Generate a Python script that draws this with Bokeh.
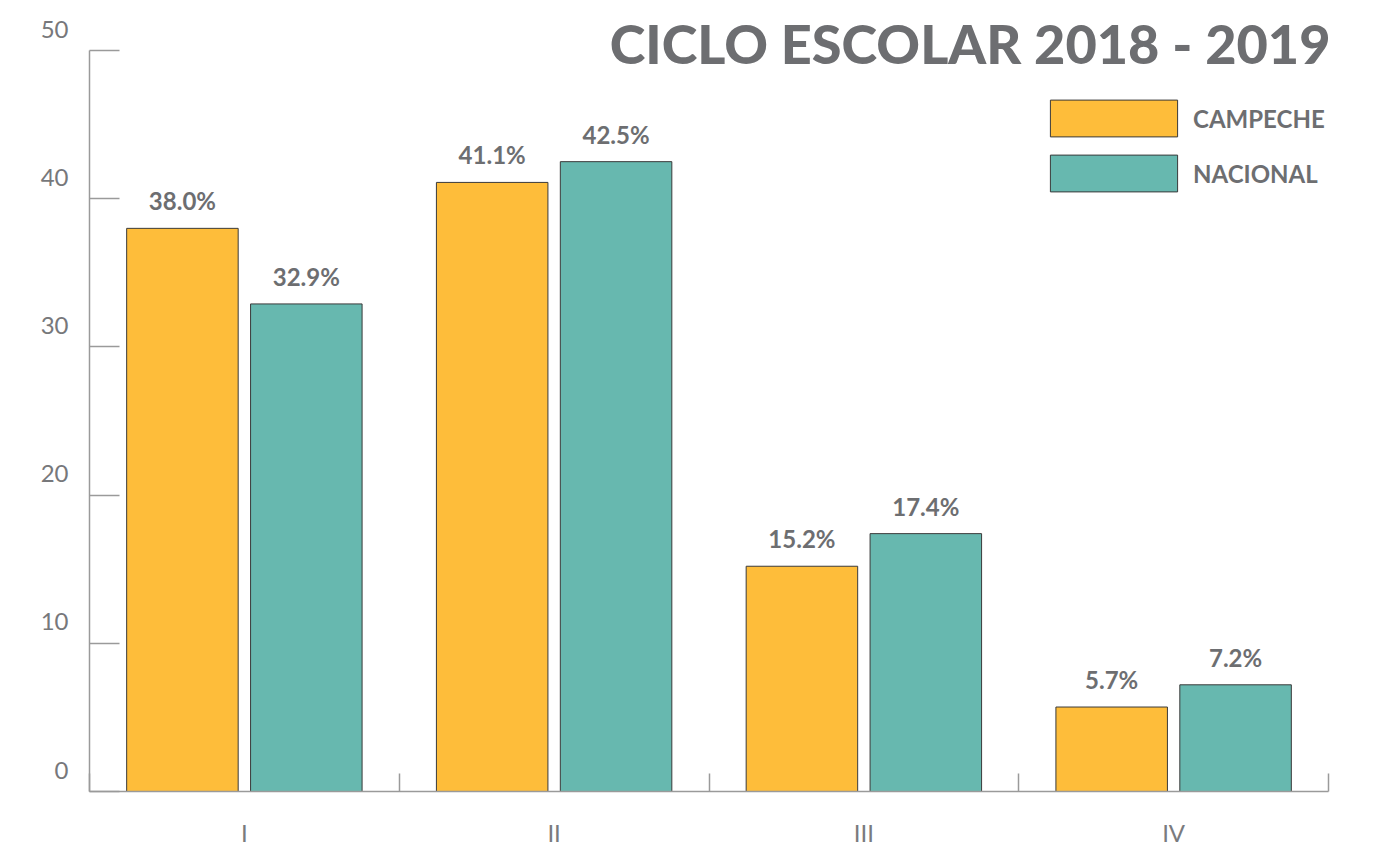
from bokeh.plotting import figure
from bokeh.models import (Range1d, FixedTicker, LinearAxis, Label, LabelSet,
                          ColumnDataSource)
from bokeh.core.properties import value
from bokeh.embed import file_html
from bokeh.resources import INLINE

categories = ["I", "II", "III", "IV"]
campeche = [38.0, 41.1, 15.2, 5.7]
nacional = [32.9, 42.5, 17.4, 7.2]
y_ticks = [0, 10, 20, 30, 40, 50]
title_text = "CICLO ESCOLAR 2018 - 2019"

YELLOW = "#FEBD3A"
TEAL = "#67B8AF"
GREY_TXT = "#6D6E71"
AXIS_GREY = "#9A9A9A"
FONT = "Lato"

n = len(categories)
centers = [i + 0.5 for i in range(n)]
bounds = [i for i in range(n + 1)]
off = 0.2
bw = 0.36

Y_MAX = 50
Y_TOP = 52.70          # headroom above the axis for the title
LBL_SHIFT = 1.45       # tick labels sit a little above their ticks

p = figure(width=1373, height=849, x_range=Range1d(0, n), y_range=Range1d(0, Y_TOP),
           output_backend="svg", toolbar_location=None,
           min_border_left=89, min_border_right=45, min_border_top=10, min_border_bottom=58)
p.outline_line_color = None
p.xgrid.visible = False
p.ygrid.visible = False
p.extra_y_ranges = {"lbl": Range1d(-LBL_SHIFT, Y_TOP - LBL_SHIFT)}

src = ColumnDataSource(dict(
    xc=[c - off for c in centers], xn=[c + off for c in centers],
    camp=campeche, nac=nacional,
    lc=[f"{v:.1f}%" for v in campeche], ln=[f"{v:.1f}%" for v in nacional],
))

p.vbar(x="xc", top="camp", width=bw, source=src, fill_color=YELLOW,
       line_color="#3a3a3a", line_width=1, legend_label="CAMPECHE")
p.vbar(x="xn", top="nac", width=bw, source=src, fill_color=TEAL,
       line_color="#3a3a3a", line_width=1, legend_label="NACIONAL")

for xf, yf, lf in (("xc", "camp", "lc"), ("xn", "nac", "ln")):
    p.add_layout(LabelSet(x=xf, y=yf, text=lf, source=src, text_align="center",
                          text_baseline="alphabetic", y_offset=18,
                          text_font=value(FONT), text_font_style="bold",
                          text_font_size="24px", text_color=GREY_TXT))

# x axis
xa = p.xaxis[0]
xa.ticker = FixedTicker(ticks=centers, minor_ticks=bounds)
xa.major_label_overrides = {c: lab for c, lab in zip(centers, categories)}
xa.major_tick_in = 0
xa.major_tick_out = 0
xa.minor_tick_in = 18
xa.minor_tick_out = 0
xa.minor_tick_line_color = AXIS_GREY
xa.minor_tick_line_width = 1.5
xa.axis_line_color = AXIS_GREY
xa.axis_line_width = 1.5
xa.major_label_standoff = 26
xa.major_label_text_font = FONT
xa.major_label_text_font_size = "24px"
xa.major_label_text_color = "#7a7b7e"

# y axis: line + inward ticks
ya = p.yaxis[0]
ya.ticker = FixedTicker(ticks=y_ticks)
ya.bounds = (0, Y_MAX)
ya.minor_tick_line_color = None
ya.major_tick_in = 30
ya.major_tick_out = 0
ya.major_tick_line_color = AXIS_GREY
ya.major_tick_line_width = 1.5
ya.axis_line_color = AXIS_GREY
ya.axis_line_width = 1.5
ya.major_label_overrides = {t: "" for t in y_ticks}
ya.major_label_text_font_size = "0px"
ya.major_label_standoff = 0

# y tick labels, raised above their ticks
ylab = LinearAxis(y_range_name="lbl", ticker=FixedTicker(ticks=y_ticks))
ylab.axis_line_color = None
ylab.major_tick_line_color = None
ylab.minor_tick_line_color = None
ylab.major_tick_in = 0
ylab.major_tick_out = 0
ylab.major_label_standoff = 21
ylab.major_label_text_font = FONT
ylab.major_label_text_font_size = "24px"
ylab.major_label_text_color = "#77787B"
p.add_layout(ylab, "left")

# title
p.add_layout(Label(x=n, y=Y_MAX, text=title_text, text_align="right", text_baseline="alphabetic",
                   y_offset=7, x_offset=2, text_font="Lato Black, Lato", text_font_style="bold",
                   text_font_size="54px", text_color=GREY_TXT))

# legend
lg = p.legend[0]
lg.location = (945, 595)
lg.glyph_width = 159
lg.glyph_height = 46
lg.spacing = 9
lg.padding = 0
lg.margin = 0
lg.label_standoff = 0
lg.border_line_color = None
lg.background_fill_alpha = 0
lg.label_text_font = FONT
lg.label_text_font_style = "bold"
lg.label_text_font_size = "24px"
lg.label_text_color = GREY_TXT

open("out.html", "w").write(file_html(p, INLINE))
